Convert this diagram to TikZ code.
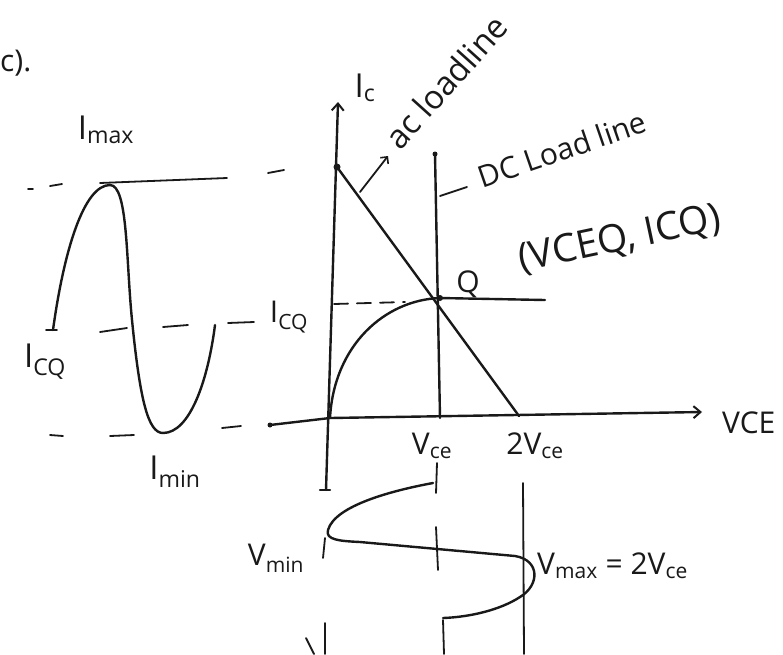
\documentclass[tikz,border=0pt]{standalone}
\usepackage{fontspec}
\setmainfont{Open Sans}
\usetikzlibrary{arrows.meta}
\begin{document}
\begin{tikzpicture}[x=1pt,y=-1pt,
  ink/.style={draw=black!90, line width=2.4pt, line cap=round, line join=round},
  thin ink/.style={draw=black!90, line width=1.8pt, line cap=round},
  lbl/.style={font=\fontsize{30}{34}\selectfont, text=black!90, inner sep=0pt},
  big lbl/.style={font=\fontsize{33}{38}\selectfont, text=black!90, inner sep=0pt},
  huge lbl/.style={font=\fontsize{39}{44}\selectfont, text=black!90, inner sep=0pt},
  dot/.style={circle, fill=black!90, inner sep=0pt, minimum size=7pt},
  barb/.style={-{Straight Barb[length=7pt,width=12pt,line width=2pt]}}]
\useasboundingbox (0,0) rectangle (783,654);

% ---------- coordinates ----------
\coordinate (O) at (330,418);
\coordinate (IcTop) at (338,102);
\coordinate (IcBot) at (326,490);
\coordinate (Xend) at (702,412);
\coordinate (B) at (519,416);
\coordinate (Dbot) at (440,418);
\node[dot] (A) at (337,167) {};
\node[dot, minimum size=6pt] (Q) at (440,298) {};
\node[dot, minimum size=5pt] (Dtop) at (435,154) {};
\node[dot, minimum size=5pt] (Xstart) at (270,425) {};

% ---------- axes ----------
\draw[ink, barb] (IcBot) -- (IcTop);
\draw[ink] (320,490) -- (330,490);
\draw[ink, barb] (Xstart.center) -- (O) -- (Xend);

% ---------- load lines and characteristic ----------
\draw[ink] (A.center) -- (B);
\draw[ink] (Dtop.center) -- (Dbot);
\draw[ink] (O) .. controls (334,345) and (385,300) .. (Q.center) -- (545,300);
\draw[thin ink, dash pattern=on 14pt off 9pt] (334,304) -- (405,302);

% pointers
\draw[thin ink, -{Straight Barb[length=5pt,width=10pt,line width=1.6pt]}] (360,192) -- (388,156);
\draw[thin ink] (440,196) -- (467,187);

% ---------- input current wave ----------
\draw[ink] (53,330) .. controls (64,250) and (84,185) .. (110,185)
  .. controls (128,185) and (126,260) .. (132,320)
  .. controls (140,400) and (148,433) .. (163,433)
  .. controls (190,433) and (208,380) .. (215,325);

% dashed levels
\draw[thin ink] (28,189) -- (33,189);
\draw[thin ink] (50,186) -- (62,184);
\draw[thin ink] (100,183) -- (227,178);
\draw[thin ink] (268,173) -- (284,170);
\draw[thin ink] (46,330) -- (57,330);
\draw[thin ink] (100,332) -- (127,328);
\draw[thin ink] (163,327) -- (188,325);
\draw[thin ink] (228,323) -- (254,322);
\draw[thin ink] (50,435) -- (63,436);
\draw[thin ink] (110,436) -- (134,435);
\draw[thin ink] (222,428) -- (241,426);

% ---------- output voltage wave ----------
\draw[thin ink] (325,538) -- (323,558);
\draw[thin ink] (325,623) -- (325,654);
\draw[thin ink] (306,638) -- (314,654);
\draw[thin ink] (437,463) -- (436,493);
\draw[thin ink] (436,527) -- (438,570);
\draw[thin ink] (443,620) -- (444,654);
\draw[thin ink] (523,483) -- (524,654);
\draw[ink] (433,483) .. controls (395,490) and (335,505) .. (328,530)
  .. controls (325,540) and (340,541) .. (360,542) -- (515,556)
  .. controls (540,560) and (540,585) .. (520,597)
  .. controls (500,610) and (470,617) .. (443,618);

% ---------- labels ----------
\node[lbl, anchor=west] (cpar) at (0,63) {c).};
\node[big lbl] (imax) at (106,130) {I\textsubscript{max}};
\node[big lbl] (icqL) at (45,362) {I\textsubscript{CQ}};
\node[lbl] (icqR) at (289,317) {I\textsubscript{CQ}};
\node[big lbl] (imin) at (175,472) {I\textsubscript{min}};
\node[big lbl] (ic) at (365,88) {I\textsubscript{c}};
\node[big lbl, rotate=48] (acl) at (446,82) {ac loadline};
\node[lbl, rotate=19] (dcl) at (562,149) {DC Load line};
\node[lbl] (qlbl) at (468,284) {Q};
\node[huge lbl, rotate=12] (qpt) at (620,240) {(VCEQ, ICQ)};
\node[lbl, anchor=west] (vceax) at (722,423) {VCE};
\node[lbl] (vce1) at (432,446) {V\textsubscript{ce}};
\node[lbl] (vce2) at (535,446) {2V\textsubscript{ce}};
\node[lbl] (vmin) at (276,558) {V\textsubscript{min}};
\node[lbl, anchor=west] (vmax) at (537,566) {V\textsubscript{max} = 2V\textsubscript{ce}};
\end{tikzpicture}
\end{document}
